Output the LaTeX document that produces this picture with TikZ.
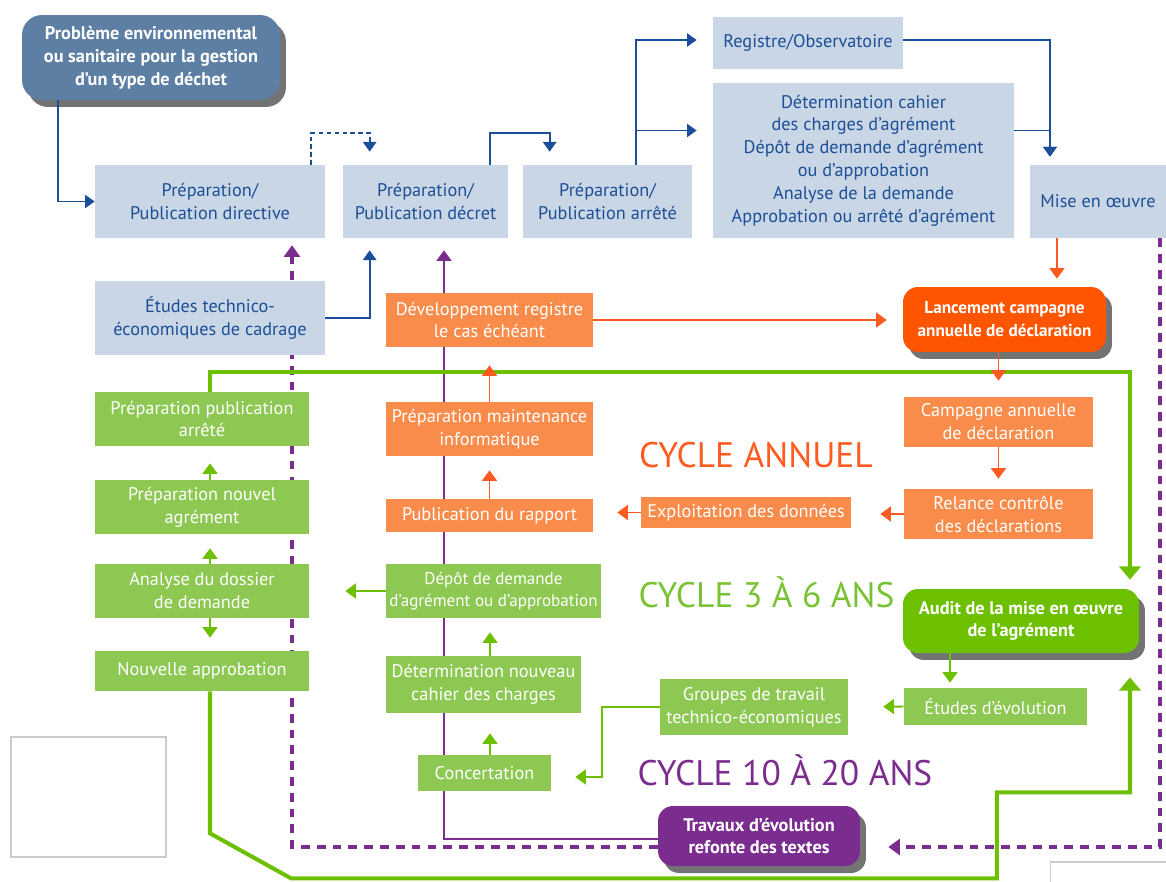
\documentclass[tikz,border=0pt]{standalone}
\usepackage{fontspec}
\setmainfont{PT Sans}
\usepackage{tikz}
\usetikzlibrary{arrows.meta}
\usetikzlibrary{shadows}
\usetikzlibrary{backgrounds}
\definecolor{cbluefill}{HTML}{C9D6E6}
\definecolor{cbluetext}{HTML}{1D4F96}
\definecolor{cblueline}{HTML}{1A4E9A}
\definecolor{cslate}{HTML}{5E7FA4}
\definecolor{corangefill}{HTML}{F98C4B}
\definecolor{corangeline}{HTML}{FF5A1F}
\definecolor{corangedark}{HTML}{FF5500}
\definecolor{cgreenfill}{HTML}{8DC852}
\definecolor{cgreenline}{HTML}{6DC000}
\definecolor{cgreentext}{HTML}{78C234}
\definecolor{cpurple}{HTML}{7B2D8F}
\newcommand{\boxfont}{\fontsize{10.4}{13}\selectfont}
\newcommand{\cyclefont}{\fontsize{20.2}{24}\selectfont}

\begin{document}
\begin{tikzpicture}[x=0.02cm, y=-0.02cm,
    box/.style = {rectangle, align=center, inner sep=2pt, font=\boxfont},
    bluebox/.style = {box, fill=cbluefill, text=cbluetext},
    orangebox/.style = {box, fill=corangefill, text=white},
    greenbox/.style = {box, fill=cgreenfill, text=white},
    keybox/.style = {box, rounded corners=0.3cm, text=white, font=\boxfont\bfseries,
        drop shadow={shadow xshift=0.12cm, shadow yshift=-0.14cm, fill=black, opacity=0.55}},
    emptybox/.style = {rectangle, draw=black!20, line width=0.6pt},
    cycle/.style = {font=\cyclefont},
    blueline/.style = {draw=cblueline, line width=1.1pt, -{Triangle[width=7.5pt,length=5.5pt]}},
    orangeline/.style = {draw=corangeline, line width=1.1pt, -{Triangle[width=8.5pt,length=6pt]}},
    greenline/.style = {draw=cgreenline, line width=1.1pt, -{Triangle[width=8.5pt,length=6pt]}},
    greenthick/.style = {draw=cgreenline, line width=2.3pt, -{Triangle[width=12pt,length=7.5pt]}},
    purpleline/.style = {draw=cpurple, line width=1.1pt, -{Triangle[width=8.5pt,length=6pt]}},
    purpledash/.style = {draw=cpurple, line width=2.2pt, dash pattern=on 5pt off 4pt,
        -{Triangle[width=9pt,length=6.5pt]}}]
    \useasboundingbox (0,0) rectangle (1166,882);

    % Nodes
    \node[keybox, fill=cslate, rounded corners=0.4cm, minimum width=5.16cm, minimum height=1.7cm]
        (prob) at (151,57.5) {Problème environnemental\\ou sanitaire pour la gestion\\d’un type de déchet};
    \node[bluebox, minimum width=4.6cm, minimum height=1.46cm] (prepdir) at (210,201.5) {Préparation/\\Publication directive};
    \node[bluebox, minimum width=3.3cm, minimum height=1.46cm] (prepdec) at (425.5,201.5) {Préparation/\\Publication décret};
    \node[bluebox, minimum width=3.38cm, minimum height=1.46cm] (preparr) at (607.5,201.5) {Préparation/\\Publication arrêté};
    \node[bluebox, minimum width=3.8cm, minimum height=1.04cm] (registre) at (808,43) {Registre/Observatoire};
    \node[bluebox, minimum width=6.02cm, minimum height=3.1cm] (determ) at (863.5,160.5)
        {Détermination cahier\\des charges d’agrément\\Dépôt de demande d’agrément\\ou d’approbation\\Analyse de la demande\\Approbation ou arrêté d’agrément};
    \node[bluebox, minimum width=2.72cm, minimum height=1.46cm] (mise) at (1098,201.5) {Mise en œuvre};
    \node[bluebox, minimum width=4.6cm, minimum height=1.48cm] (etudes) at (210,318) {Études technico-\\économiques de cadrage};

    \node[orangebox, minimum width=4.14cm, minimum height=1.08cm] (devreg) at (489.5,320) {Développement registre\\le cas échéant};
    \node[orangebox, minimum width=4.14cm, minimum height=1.08cm] (prepmaint) at (489.5,429) {Préparation maintenance\\informatique};
    \node[orangebox, minimum width=4.14cm, minimum height=0.66cm] (pubrap) at (489.5,515.5) {Publication du rapport};
    \node[orangebox, minimum width=4.2cm, minimum height=0.62cm] (exploit) at (746,512.5) {Exploitation des données};
    \node[orangebox, minimum width=3.78cm, minimum height=1cm] (campagne) at (998.5,422) {Campagne annuelle\\de déclaration};
    \node[orangebox, minimum width=3.78cm, minimum height=1cm] (relance) at (998.5,514) {Relance contrôle\\des déclarations};
    \node[keybox, fill=corangedark, minimum width=4.06cm, minimum height=1.3cm,
        font=\fontsize{9.8}{13}\selectfont\bfseries] (lancement) at (1004.5,319.5)
        {Lancement campagne\\annuelle de déclaration};

    \node[greenbox, minimum width=4.28cm, minimum height=1.08cm] (preppub) at (202,419) {Préparation publication\\arrêté};
    \node[greenbox, minimum width=4.28cm, minimum height=1.08cm] (prepnouv) at (202,507) {Préparation nouvel\\agrément};
    \node[greenbox, minimum width=4.28cm, minimum height=1.08cm] (analyse) at (202,591) {Analyse du dossier\\de demande};
    \node[greenbox, minimum width=4.28cm, minimum height=0.8cm] (nouvappr) at (202,671) {Nouvelle approbation};
    \node[greenbox, minimum width=4.3cm, minimum height=1.08cm, inner sep=1pt,
        font=\fontsize{9.7}{13}\selectfont] (depot) at (493.5,591) {Dépôt de demande\\d’agrément ou d’approbation};
    \node[greenbox, minimum width=3.9cm, minimum height=1.14cm] (determnouv) at (483.5,684.5) {Détermination nouveau\\cahier des charges};
    \node[greenbox, minimum width=2.66cm, minimum height=0.72cm] (concert) at (484.5,773) {Concertation};
    \node[greenbox, minimum width=3.76cm, minimum height=1.12cm] (groupes) at (754,707) {Groupes de travail\\technico-économiques};
    \node[greenbox, minimum width=3.66cm, minimum height=0.74cm] (etudesevol) at (995.5,706.5) {Études d’évolution};
    \node[keybox, fill=cgreenline, minimum width=4.72cm, minimum height=1.28cm] (audit) at (1021,621)
        {Audit de la mise en œuvre\\de l’agrément};
    \node[keybox, fill=cpurple, minimum width=4.04cm, minimum height=1.2cm] (travaux) at (759,836)
        {Travaux d’évolution\\refonte des textes};

    \node[cycle, text=corangeline] (cannuel) at (756,455) {CYCLE ANNUEL};
    \node[cycle, text=cgreentext] (ctrois) at (766.5,592) {CYCLE 3 À 6 ANS};
    \node[cycle, text=cpurple] (cdix) at (785,770) {CYCLE 10 À 20 ANS};

    \node[emptybox, minimum width=3.1cm, minimum height=2.4cm] (blankl) at (88.5,797) {};
    \node[emptybox, minimum width=3cm, minimum height=0.8cm] (blankr) at (1125,882) {};

    % Edges
    \begin{scope}[on background layer]
        \draw[purpledash, shorten >=0.56cm] ([xshift=-0.12cm]mise.south east) |- ([yshift=-0.22cm]travaux.east);
        \draw[purpledash, shorten >=0.14cm] ([yshift=-0.22cm]travaux.west) -| ([xshift=1.64cm]prepdir.south);
        \draw[purpleline, shorten >=0.24cm] ([yshift=-0.06cm]travaux.west) -| ([xshift=0.37cm]prepdec.south);
    \end{scope}

    \draw[blueline] ([xshift=0.72cm]prob.south west) |- (prepdir.west);
    \draw[blueline, dash pattern=on 2.5pt off 2pt] ([xshift=-0.28cm]prepdir.north east) -- ++(0,0.64cm)
        -| ([xshift=0.54cm,yshift=0.26cm]prepdec.north west);
    \draw[blueline] ([xshift=-0.36cm]prepdec.north east) -- ++(0,0.64cm) -| ([xshift=0.54cm,yshift=0.26cm]preparr.north west);
    \draw[blueline, shorten >=0.32cm] ([xshift=2.26cm]preparr.north west) |- ([yshift=0.06cm]registre.west);
    \draw[blueline, shorten >=0.32cm] ([xshift=2.26cm]preparr.north west) |- ([yshift=0.6cm]determ.west);
    \draw[blueline, shorten >=0.16cm] ([yshift=0.06cm]registre.east) -| ([xshift=-0.96cm]mise.north);
    \draw[blueline, shorten >=0.16cm] ([yshift=0.6cm]determ.east) -| ([xshift=-0.96cm]mise.north);
    \draw[blueline, shorten >=0.24cm] (etudes.east) -| ([xshift=0.54cm]prepdec.south west);

    \draw[greenthick, shorten >=0.18cm] ([xshift=0.16cm]preppub.north) -- ++(0,0.4cm) -| ([xshift=2.18cm]audit.north);
    \draw[greenthick, shorten >=0.48cm] ([xshift=0.16cm]nouvappr.south) -- ++(0,-2.84cm) -- ++(1.62cm,-0.9cm)
        -- ++(14.12cm,0) -- ++(0,1.72cm) -| ([xshift=2.18cm]audit.south);

    \draw[greenline, shorten >=0.34cm] ([xshift=0.16cm]prepnouv.north) -- ([xshift=0.16cm]preppub.south);
    \draw[greenline, shorten >=0.28cm] ([xshift=0.16cm]analyse.north) -- ([xshift=0.16cm]prepnouv.south);
    \draw[greenline, shorten >=0.26cm] ([xshift=0.16cm]analyse.south) -- ([xshift=0.16cm]nouvappr.north);
    \draw[greenline, shorten >=0.72cm] (depot.west) -- (analyse.east);
    \draw[greenline, shorten >=0.28cm] ([xshift=0.13cm]determnouv.north) -- ([xshift=0.13cm]determnouv.north |- depot.south);
    \draw[greenline, shorten >=0.4cm] ([xshift=0.11cm]concert.north) -- ([xshift=0.11cm]concert.north |- determnouv.south);
    \draw[greenline, shorten >=0.48cm] (groupes.west) -- ++(-1.16cm,0) |- ([yshift=-0.08cm]concert.east);
    \draw[greenline, shorten >=0.7cm] (etudesevol.west) -- (groupes.east);
    \draw[greenline, shorten >=0.1cm] ([xshift=-1.42cm]audit.south) -- ([xshift=-1.42cm]audit.south |- etudesevol.north);

    \draw[orangeline, shorten >=0.16cm] ([xshift=-0.82cm]mise.south) -- ([xshift=-0.82cm]mise.south |- lancement.north);
    \draw[orangeline, shorten >=0.32cm] (devreg.east) -- (devreg.east -| lancement.west);
    \draw[orangeline, shorten >=0.32cm] (campagne.north |- lancement.south) -- (campagne.north);
    \draw[orangeline, shorten >=0.2cm] (campagne.south) -- (relance.north);
    \draw[orangeline, shorten >=0.58cm] (relance.west) -- (relance.west -| exploit.east);
    \draw[orangeline, shorten >=0.48cm] (exploit.west) -- (exploit.west -| pubrap.east);
    \draw[orangeline, shorten >=0.28cm] (pubrap.north) -- (prepmaint.south);
    \draw[orangeline, shorten >=0.36cm] (prepmaint.north) -- (devreg.south);
\end{tikzpicture}
\end{document}
